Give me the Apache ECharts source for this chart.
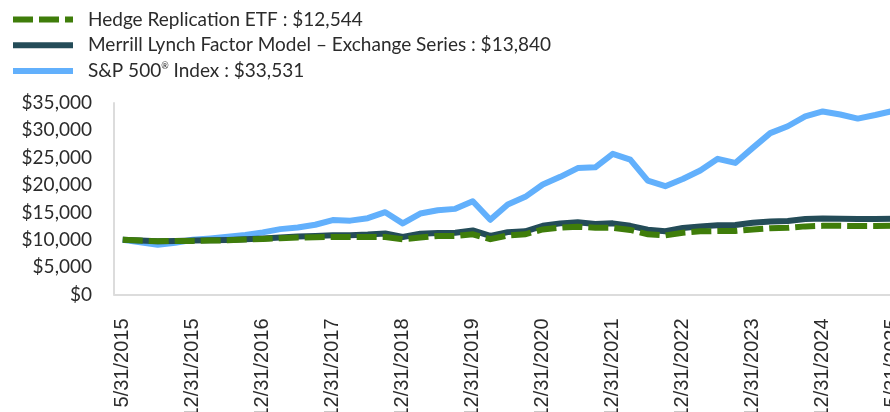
<!DOCTYPE html>
<html>
<head>
<meta charset="utf-8">
<script src="https://cdn.jsdelivr.net/npm/echarts@6/dist/echarts.min.js"></script>
<style>
html,body{margin:0;padding:0;background:#fff;overflow:hidden;width:890px;height:412px;}
#chart{width:920px;height:412px;}
</style>
</head>
<body>
<div id="chart"></div>
<script>
// Category dates (only every 4th is labelled on the axis)
const categories = [
  "5/31/2015","7/31/2015","9/30/2015","10/31/2015","12/31/2015",
  "3/31/2016","6/30/2016","9/30/2016","12/31/2016",
  "3/31/2017","6/30/2017","9/30/2017","12/31/2017",
  "3/31/2018","6/30/2018","9/30/2018","12/31/2018",
  "3/31/2019","6/30/2019","9/30/2019","12/31/2019",
  "3/31/2020","6/30/2020","9/30/2020","12/31/2020",
  "3/31/2021","6/30/2021","9/30/2021","12/31/2021",
  "3/31/2022","6/30/2022","9/30/2022","12/31/2022",
  "3/31/2023","6/30/2023","9/30/2023","12/31/2023",
  "3/31/2024","6/30/2024","9/30/2024","12/31/2024",
  "2/28/2025","3/31/2025","4/30/2025","5/31/2025"
];

const seriesNames = [
  "Hedge Replication ETF : $12,544",
  "Merrill Lynch Factor Model \u2013 Exchange Series : $13,840",
  "S&P 500\u00AE Index : $33,531"
];

const hedgeValues = [
  10000, 9860, 9730, 9790, 9800,
  9860, 9910, 10040, 10150,
  10280, 10400, 10460, 10520,
  10520, 10520, 10520, 10090,
  10400, 10700, 10700, 11000,
  10100, 10800, 11000, 11900,
  12200, 12400, 12200, 12200,
  11800, 11000, 10800, 11300,
  11550, 11600, 11600, 11900,
  12100, 12200, 12450, 12550,
  12550, 12500, 12500, 12544
];

const merrillValues = [
  10000, 9850, 9750, 9800, 9850,
  9900, 9980, 10100, 10250,
  10400, 10600, 10700, 10850,
  10850, 10950, 11150, 10500,
  11100, 11250, 11300, 11700,
  10700, 11400, 11550, 12550,
  13000, 13200, 12900, 13000,
  12550, 11850, 11550, 12150,
  12450, 12650, 12700, 13100,
  13350, 13450, 13800, 13900,
  13850, 13800, 13800, 13840
];

const spValues = [
  10000, 9550, 9100, 9450, 10000,
  10250, 10550, 10900, 11350,
  11950, 12250, 12750, 13600,
  13500, 13950, 15050, 13000,
  14800, 15400, 15650, 17050,
  13650, 16450, 17850, 20100,
  21500, 23100, 23250, 25700,
  24650, 20800, 19800, 21100,
  22650, 24800, 24050, 26800,
  29500, 30750, 32550, 33450,
  32900, 32150, 32800, 33531
];

const yMin = 0, yMax = 35000, yInterval = 5000;

const chart = echarts.init(document.getElementById('chart'), null, {renderer: 'canvas'});
const sansFont = 'Lato, "Noto Sans", sans-serif';
const textColor = '#2b2b2b';

chart.setOption({
  animation: false,
  backgroundColor: '#ffffff',
  grid: {left: 114, top: 103, width: 787.5, height: 191.5, containLabel: false, outerBoundsMode: 'none'},
  legend: {
    orient: 'vertical',
    left: 10,
    top: 10,
    padding: 0,
    itemWidth: 60,
    itemHeight: 19,
    itemGap: 6.7,
    data: [seriesNames[0], seriesNames[1], seriesNames[2]],
    lineStyle: {width: 6},
    itemStyle: {color: 'rgba(0,0,0,0)', borderWidth: 0, opacity: 0},
    formatter: function (name) {
      return name.replace('\u00AE', '{sup|\u00AE}');
    },
    textStyle: {
      fontFamily: sansFont,
      fontSize: 19,
      lineHeight: 19,
      color: textColor,
      padding: [0, 0, 0, 10],
      rich: {
        sup: {fontSize: 9, verticalAlign: 'top', lineHeight: 19, padding: [0, 0, 8, 0], fontFamily: sansFont, color: textColor}
      }
    }
  },
  xAxis: {
    type: 'category',
    data: categories,
    boundaryGap: true,
    axisLine: {show: true, lineStyle: {color: '#dcdcdc', width: 2}},
    axisTick: {show: false},
    splitLine: {show: false},
    axisLabel: {
      interval: 3,
      rotate: 90,
      margin: 24,
      fontFamily: '"Liberation Sans", Arial, sans-serif',
      fontSize: 20,
      color: textColor
    }
  },
  yAxis: {
    type: 'value',
    min: yMin,
    max: yMax,
    interval: yInterval,
    axisLine: {show: true, lineStyle: {color: '#dcdcdc', width: 2}},
    axisTick: {show: false},
    splitLine: {show: false},
    axisLabel: {
      margin: 22,
      fontFamily: sansFont,
      fontSize: 19,
      color: textColor,
      formatter: function (v) { return '$' + v.toLocaleString('en-US'); }
    }
  },
  series: [
    {
      name: seriesNames[2],
      type: 'line',
      data: spValues,
      symbol: 'none',
      showSymbol: false,
      lineStyle: {color: '#62b0fc', width: 6, join: 'round'},
      itemStyle: {color: '#62b0fc'},
      z: 2
    },
    {
      name: seriesNames[1],
      type: 'line',
      data: merrillValues,
      symbol: 'none',
      showSymbol: false,
      lineStyle: {color: '#244c58', width: 6, join: 'round'},
      itemStyle: {color: '#244c58'},
      z: 3
    },
    {
      name: seriesNames[0],
      type: 'line',
      data: hedgeValues,
      symbol: 'none',
      showSymbol: false,
      lineStyle: {color: '#3f7d0a', width: 6, type: [20, 6], cap: 'butt', join: 'miter'},
      itemStyle: {color: '#3f7d0a'},
      z: 4
    }
  ]
});
</script>
</body>
</html>
